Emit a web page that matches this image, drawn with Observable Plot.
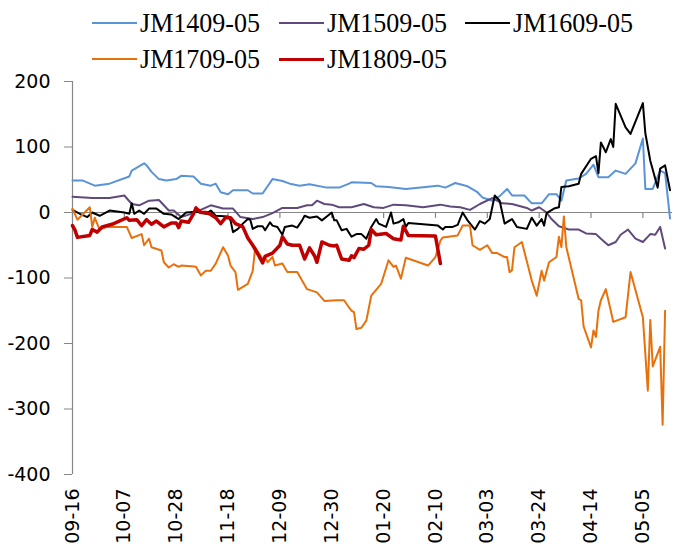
<!DOCTYPE html>
<html><head><meta charset="utf-8">
<script src="https://cdn.jsdelivr.net/npm/d3@7"></script>
<script src="https://cdn.jsdelivr.net/npm/@observablehq/plot@0.6"></script>
<style>
body{margin:0;background:#fff;width:694px;height:546px;overflow:hidden;}
#legend{position:relative;height:70px;font-family:"Liberation Serif",serif;font-size:28px;color:#000;}
.item{position:absolute;display:flex;align-items:center;height:36px;}
.sw{width:45px;height:0;margin-right:3px;}
.lbl{display:inline-block;transform:scaleX(0.93);transform-origin:left center;white-space:nowrap;}
</style></head><body>
<div id="legend"></div><div id="chart"></div>
<script>
const seriesNames = ["JM1409-05","JM1509-05","JM1609-05","JM1709-05","JM1809-05"];
const seriesColors = ["#5B93D8","#604A7B","#000000","#E8710C","#C00000"];
const seriesWidths = [2,2,2,2,3.5];
const tickLabels = ["09-16","10-07","10-28","11-18","12-09","12-30","01-20","02-10","03-03","03-24","04-14","05-05"];
const xEnd = "05-17";
const yTicks = [-400,-300,-200,-100,0,100,200];

const JM1409 = [["09-16",49],["09-20",49],["09-25",41],["10-01",44],["10-09",55],["10-10",64],["10-15",75],["10-16",72],["10-18",62],["10-21",51],["10-24",49],["10-28",51],["10-30",56],["11-04",55],["11-07",44],["11-11",41],["11-13",44],["11-15",31],["11-18",28],["11-20",34],["11-26",34],["11-28",29],["12-02",29],["12-06",51],["12-10",48],["12-13",44],["12-17",41],["12-21",43],["12-28",38],["01-02",38],["01-06",44],["01-07",46],["01-15",45],["01-17",40],["01-22",39],["01-29",36],["02-11",41],["02-14",38],["02-18",45],["02-23",40],["02-27",31],["03-01",23],["03-05",18],["03-08",25],["03-11",36],["03-13",26],["03-18",26],["03-21",14],["03-25",14],["03-28",28],["03-31",28],["04-02",18],["04-04",49],["04-09",52],["04-12",59],["04-15",73],["04-17",54],["04-21",54],["04-24",64],["04-28",59],["05-02",75],["05-05",113],["05-06",36],["05-09",36],["05-12",64],["05-14",60],["05-16",-9]];

const JM1509 = [["09-16",24],["09-24",22],["10-01",22],["10-07",26],["10-10",13],["10-13",11],["10-17",18],["10-21",19],["10-25",3],["10-27",3],["10-30",-7],["11-04",-1],["11-11",11],["11-16",6],["11-20",6],["11-23",-7],["11-28",-10],["12-02",-7],["12-06",-1],["12-10",7],["12-16",7],["12-20",11],["12-22",11],["12-24",18],["12-27",13],["12-30",12],["01-02",8],["01-07",8],["01-12",13],["01-16",8],["01-20",7],["01-24",12],["01-29",11],["02-05",8],["02-12",12],["02-16",9],["02-20",8],["02-24",4],["02-28",13],["03-05",22],["03-09",14],["03-13",13],["03-19",7],["03-21",3],["03-24",8],["03-27",0],["03-29",-10],["04-01",-21],["04-05",-26],["04-09",-26],["04-12",-32],["04-16",-33],["04-18",-40],["04-21",-50],["04-24",-45],["04-26",-34],["04-29",-26],["05-02",-40],["05-05",-45],["05-08",-33],["05-10",-34],["05-12",-22],["05-14",-55]];

const JM1609 = [["09-16",4],["09-19",-2],["09-22",-7],["09-24",0],["09-27",-5],["10-01",3],["10-07",0],["10-09",-2],["10-10",14],["10-11",-2],["10-13",3],["10-15",-2],["10-17",6],["10-20",6],["10-23",-2],["10-26",-3],["10-29",-10],["11-01",0],["11-05",1],["11-09",-2],["11-11",3],["11-13",-5],["11-18",-6],["11-19",-12],["11-20",-30],["11-22",-25],["11-24",-17],["11-26",-10],["11-27",-11],["11-28",-25],["11-30",-21],["12-02",-21],["12-03",-27],["12-05",-15],["12-06",-20],["12-08",-22],["12-10",-34],["12-11",-22],["12-14",-20],["12-16",-23],["12-18",-12],["12-19",-5],["12-21",-8],["12-24",-6],["12-26",-12],["12-28",-6],["12-30",0],["12-31",-12],["01-01",-12],["01-03",-27],["01-05",-25],["01-07",-37],["01-09",-33],["01-11",-33],["01-13",-40],["01-15",-22],["01-17",-10],["01-18",-17],["01-21",-22],["01-23",0],["01-24",-17],["01-26",-15],["01-28",-10],["01-29",-22],["01-30",-16],["02-11",-20],["02-13",-26],["02-14",-22],["02-17",-22],["02-19",-19],["02-21",0],["02-23",-12],["02-26",-26],["02-28",-13],["03-02",-17],["03-04",-10],["03-06",26],["03-08",18],["03-10",-17],["03-13",-10],["03-15",-22],["03-19",-25],["03-21",-8],["03-23",-20],["03-25",-10],["03-26",-20],["03-27",-1],["03-30",6],["04-01",8],["04-02",39],["04-05",40],["04-09",44],["04-10",59],["04-14",82],["04-16",86],["04-17",60],["04-18",107],["04-20",92],["04-22",112],["04-23",100],["04-24",166],["04-28",130],["04-30",120],["05-05",167],["05-06",121],["05-08",79],["05-11",38],["05-12",67],["05-14",72],["05-16",34]];

const JM1709 = [["09-16",6],["09-18",-11],["09-23",8],["09-24",-22],["09-25",-8],["09-27",-26],["09-30",-22],["10-08",-22],["10-10",-39],["10-14",-33],["10-15",-50],["10-17",-40],["10-18",-53],["10-22",-58],["10-23",-76],["10-25",-84],["10-27",-79],["10-29",-83],["10-30",-81],["11-03",-82],["11-05",-83],["11-07",-96],["11-09",-89],["11-11",-89],["11-13",-78],["11-16",-53],["11-18",-66],["11-19",-81],["11-21",-91],["11-22",-118],["11-26",-109],["11-28",-89],["11-29",-53],["12-02",-71],["12-03",-69],["12-04",-76],["12-06",-68],["12-07",-81],["12-10",-78],["12-12",-91],["12-16",-91],["12-20",-117],["12-24",-122],["12-27",-135],["01-01",-134],["01-04",-134],["01-06",-145],["01-07",-150],["01-08",-152],["01-09",-178],["01-11",-176],["01-13",-165],["01-15",-127],["01-19",-109],["01-22",-73],["01-24",-83],["01-25",-81],["01-27",-101],["01-29",-69],["02-07",-81],["02-10",-68],["02-12",-43],["02-13",-38],["02-19",-35],["02-21",-20],["02-24",-20],["02-25",-50],["02-28",-57],["03-03",-50],["03-05",-62],["03-07",-62],["03-10",-68],["03-11",-68],["03-12",-91],["03-13",-88],["03-14",-53],["03-17",-45],["03-21",-104],["03-23",-127],["03-25",-89],["03-26",-104],["03-28",-76],["03-31",-68],["04-01",-37],["04-02",-53],["04-03",-6],["04-04",-53],["04-09",-132],["04-10",-134],["04-11",-174],["04-14",-206],["04-15",-180],["04-16",-190],["04-17",-150],["04-18",-134],["04-20",-117],["04-22",-150],["04-23",-167],["04-28",-160],["04-30",-91],["05-05",-160],["05-07",-272],["05-08",-164],["05-09",-235],["05-12",-205],["05-13",-324],["05-14",-150]];

const JM1809 = [["09-16",-20],["09-17",-27],["09-18",-38],["09-23",-35],["09-24",-26],["09-26",-30],["09-28",-22],["10-02",-18],["10-08",-8],["10-09",-12],["10-12",-11],["10-14",-20],["10-16",-11],["10-18",-18],["10-20",-13],["10-23",-22],["10-26",-16],["10-28",-16],["10-29",-23],["10-30",-13],["11-02",-15],["11-04",-2],["11-05",7],["11-07",0],["11-09",0],["11-11",-3],["11-13",-8],["11-15",-17],["11-17",-8],["11-19",-8],["11-21",-17],["11-24",-22],["11-26",-39],["11-28",-50],["11-30",-63],["12-02",-77],["12-03",-67],["12-06",-62],["12-08",-54],["12-09",-50],["12-10",-37],["12-12",-48],["12-14",-50],["12-17",-50],["12-19",-71],["12-21",-54],["12-23",-66],["12-24",-76],["12-26",-45],["12-29",-50],["12-31",-51],["01-01",-50],["01-03",-71],["01-06",-73],["01-07",-66],["01-08",-69],["01-10",-55],["01-12",-56],["01-14",-50],["01-15",-26],["01-17",-34],["01-21",-32],["01-24",-40],["01-27",-42],["01-28",-21],["01-30",-35],["02-10",-36],["02-12",-78]];

const seriesData = [JM1409, JM1509, JM1609, JM1709, JM1809];

const parse = s => { const [m, d] = s.split("-").map(Number); return new Date(m >= 9 ? 2017 : 2018, m - 1, d); };
const tickDates = tickLabels.map(parse);
const axisGray = "#868686";

// legend
const legend = document.getElementById("legend");
seriesNames.forEach((name, i) => {
  const it = document.createElement("div");
  it.className = "item";
  it.style.left = (92 + (i % 3) * 186.5) + "px";
  it.style.top = (5 + Math.floor(i / 3) * 36) + "px";
  const sw = document.createElement("span");
  sw.className = "sw";
  sw.style.borderTop = seriesWidths[i] + "px solid " + seriesColors[i];
  const lb = document.createElement("span");
  lb.className = "lbl";
  lb.textContent = name;
  it.appendChild(sw); it.appendChild(lb);
  legend.appendChild(it);
});

const lines = seriesData.map((arr, i) => Plot.line(arr.map(([d, v]) => ({date: parse(d), value: v})), {
  x: "date", y: "value", stroke: seriesColors[i], strokeWidth: seriesWidths[i], strokeLinejoin: "round", strokeLinecap: "round"
}));

const chart = Plot.plot({
  width: 694, height: 476,
  marginTop: 11, marginBottom: 72, marginLeft: 72, marginRight: 22,
  x: {type: "time", domain: [parse(tickLabels[0]), parse(xEnd)], axis: null},
  y: {domain: [yTicks[0], yTicks[yTicks.length - 1]]},
  style: {fontFamily: "'DejaVu Sans', sans-serif", fontSize: "19px", color: "#000", background: "#fff"},
  marks: [
    Plot.ruleX([parse(tickLabels[0])], {y1: yTicks[0], y2: yTicks[yTicks.length - 1], stroke: axisGray, strokeWidth: 1.2}),
    Plot.axisY({ticks: yTicks, tickSize: 8, tickFormat: () => "", stroke: axisGray, label: null}),
    Plot.text(yTicks, {y: d => d, text: d => String(d), frameAnchor: "left", dx: -22, textAnchor: "end", fill: "#000", fontSize: 19}),
    Plot.ruleY([0], {stroke: axisGray, strokeWidth: 1.2}),
    Plot.ruleX(tickDates, {y1: 0, y2: -9, stroke: axisGray, strokeWidth: 1.2}),
    Plot.text(tickDates, {x: d => d, text: d => d3.timeFormat("%m-%d")(d), frameAnchor: "bottom", dy: 14, rotate: -90, textAnchor: "end", lineAnchor: "middle", fill: "#000", fontSize: 19}),
    ...lines
  ]
});
document.getElementById("chart").appendChild(chart);
</script>
</body></html>
